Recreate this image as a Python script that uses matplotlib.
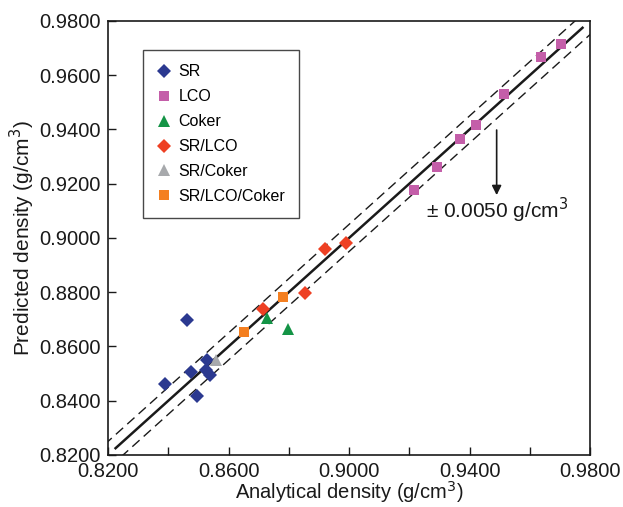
import numpy as np
import matplotlib.pyplot as plt

plt.rcParams['font.family'] = ['Liberation Sans', 'DejaVu Sans']

# measured vs predicted densities (g/cm3)
sr_x = [0.8462, 0.8529, 0.8476, 0.8526, 0.8537, 0.8389, 0.8495]
sr_y = [0.8696, 0.8549, 0.8506, 0.8513, 0.8495, 0.8462, 0.8416]

lco_x = [0.9704, 0.9637, 0.9514, 0.9421, 0.9368, 0.9291, 0.9217]
lco_y = [0.9716, 0.9668, 0.9532, 0.9417, 0.9364, 0.9263, 0.9178]

coker_x = [0.8729, 0.8798]
coker_y = [0.8706, 0.8663]

sr_lco_x = [0.8713, 0.8855, 0.8920, 0.8989]
sr_lco_y = [0.8738, 0.8797, 0.8958, 0.8983]

sr_coker_x = [0.8559]
sr_coker_y = [0.8549]

sr_lco_coker_x = [0.8652, 0.8781]
sr_lco_coker_y = [0.8654, 0.8783]

tolerance = 0.0050

fig = plt.figure(figsize=(6.23, 5.07), dpi=100)
ax = fig.add_axes([0.1734, 0.1026, 0.7737, 0.856])

# parity line and tolerance band
ax.plot([0.8225, 0.9775], [0.8225, 0.9775], color='#1a1a1a', lw=1.8, zorder=2)
band = np.array([0.80, 1.00])
ax.plot(band, band + tolerance, color='#1a1a1a', lw=1.0, ls=(0, (7, 4)), zorder=2)
ax.plot(band, band - tolerance, color='#1a1a1a', lw=1.0, ls=(0, (7, 4)), zorder=2)

ax.plot(sr_x, sr_y, 'D', color='#2b3990', ms=7, mew=0, label='SR', zorder=3)
ax.plot(lco_x, lco_y, 's', color='#c45ea9', ms=7, mew=0, label='LCO', zorder=3)
ax.plot(coker_x, coker_y, '^', color='#149446', ms=9, mew=0, label='Coker', zorder=3)
ax.plot(sr_lco_x, sr_lco_y, 'D', color='#ee4023', ms=7, mew=0, label='SR/LCO', zorder=3)
ax.plot(sr_coker_x, sr_coker_y, '^', color='#a7a9ac', ms=9, mew=0, label='SR/Coker', zorder=3)
ax.plot(sr_lco_coker_x, sr_lco_coker_y, 's', color='#f47f20', ms=7, mew=0,
        label='SR/LCO/Coker', zorder=3)

ax.set_xlim(0.82, 0.98)
ax.set_ylim(0.82, 0.98)
ax.set_xticks(np.arange(0.82, 0.9801, 0.04))
ax.set_xticks(np.arange(0.84, 0.98, 0.04), minor=True)
ax.set_yticks(np.arange(0.82, 0.9801, 0.02))
ax.xaxis.set_major_formatter(plt.FormatStrFormatter('%.4f'))
ax.yaxis.set_major_formatter(plt.FormatStrFormatter('%.4f'))
ax.tick_params(which='both', direction='in', length=6, width=1, labelsize=14.5,
               colors='#1a1a1a')
ax.tick_params(axis='x', pad=5)
ax.tick_params(axis='y', pad=5)
for s in ax.spines.values():
    s.set_linewidth(1.2)
    s.set_color('#1a1a1a')

ax.set_xlabel('Analytical density (g/cm$^3$)', fontsize=14.5, color='#1a1a1a', labelpad=-1)
ax.set_ylabel('Predicted density (g/cm$^3$)', fontsize=15, color='#1a1a1a', labelpad=2)

leg = ax.legend(loc='upper left', bbox_to_anchor=(0.073, 0.933), fontsize=11.5,
                frameon=True, fancybox=False, edgecolor='#1a1a1a',
                handlelength=0.8, handletextpad=0.5, labelspacing=0.62,
                borderpad=0.9, borderaxespad=0)
leg.get_frame().set_linewidth(1.0)

# tolerance annotation
ax.annotate('', xy=(0.9490, 0.9158), xytext=(0.9490, 0.9398),
            arrowprops=dict(arrowstyle='-|>', color='#1a1a1a', lw=1.2,
                            mutation_scale=14, shrinkA=0, shrinkB=0))
ax.text(0.9255, 0.9100, '\u00b1 0.0050 g/cm$^3$', fontsize=15, color='#1a1a1a',
        va='center', ha='left')

fig.savefig('out.png', dpi=100)
